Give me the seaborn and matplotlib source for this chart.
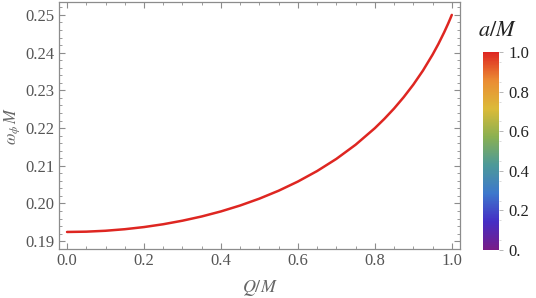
import numpy as np
import pandas as pd
import matplotlib
matplotlib.use('Agg')
import matplotlib.pyplot as plt
import seaborn as sns
from matplotlib.colors import LinearSegmentedColormap, Normalize
from matplotlib.ticker import MultipleLocator, FixedLocator, FixedFormatter

# Data
q_over_m = [0.0, 0.05, 0.1, 0.15, 0.2, 0.25, 0.3, 0.35, 0.4, 0.45, 0.5, 0.55,
            0.6, 0.65, 0.7, 0.75, 0.8, 0.825, 0.85, 0.875, 0.9, 0.925, 0.95,
            0.965, 0.98, 0.99, 0.995, 1.0]
omega_m = [0.19245, 0.19253, 0.19277, 0.19318, 0.19375, 0.19450, 0.19544,
           0.19656, 0.19790, 0.19947, 0.20129, 0.20339, 0.20582, 0.20861,
           0.21183, 0.21558, 0.21997, 0.22247, 0.22519, 0.22820, 0.23152,
           0.23524, 0.23946, 0.24227, 0.24536, 0.24759, 0.24877, 0.25]
a_over_m = 1.0
cbar_ticks = [0.0, 0.2, 0.4, 0.6, 0.8, 1.0]
cbar_labels = ['0.', '0.2', '0.4', '0.6', '0.8', '1.0']

df = pd.DataFrame({'Q': q_over_m, 'omega': omega_m})

sns.set_style('ticks')
plt.rcParams['font.family'] = ['Liberation Serif', 'DejaVu Serif']
plt.rcParams['mathtext.fontset'] = 'stix'

rainbow = LinearSegmentedColormap.from_list('mma_rainbow', [
    (0.47, 0.11, 0.53), (0.27, 0.18, 0.77), (0.24, 0.47, 0.80), (0.30, 0.60, 0.60),
    (0.54, 0.69, 0.32), (0.86, 0.73, 0.22), (0.92, 0.55, 0.20), (0.87, 0.15, 0.13)])
norm = Normalize(0, 1)
line_color = rainbow(norm(a_over_m))

fig = plt.figure(figsize=(5.36, 2.98), dpi=100)
ax = fig.add_axes([0.110, 0.164, 0.748, 0.829])
sns.lineplot(data=df, x='Q', y='omega', ax=ax, color=line_color, lw=1.8)

ax.set_xlim(-0.021, 1.021)
ax.set_ylim(0.1879, 0.2534)
ax.xaxis.set_major_locator(MultipleLocator(0.2))
ax.xaxis.set_minor_locator(MultipleLocator(0.05))
ax.yaxis.set_major_locator(MultipleLocator(0.01))
ax.yaxis.set_minor_locator(MultipleLocator(0.002))
ax.xaxis.set_major_formatter(plt.FuncFormatter(lambda v, p: f'{v:.1f}'))
ax.yaxis.set_major_formatter(plt.FuncFormatter(lambda v, p: f'{v:.2f}'))

gray = '#8c8c8c'
for s in ax.spines.values():
    s.set_visible(True)
    s.set_color(gray)
    s.set_linewidth(0.9)
ax.tick_params(which='both', direction='in', bottom=True, left=True, top=True, right=True,
               color=gray, labelcolor='#555555', labelsize=12, pad=3)
ax.tick_params(which='major', length=4.5, width=0.8)
ax.tick_params(which='minor', length=2.5, width=0.6)
ax.set_xlabel('$Q/M$', color='#666666', fontsize=13, labelpad=6)
ax.set_ylabel(r'$\omega_\phi\, M$', color='#666666', fontsize=12, labelpad=3)

cax = fig.add_axes([0.901, 0.161, 0.030, 0.664])
sm = plt.cm.ScalarMappable(norm=norm, cmap=rainbow)
cb = fig.colorbar(sm, cax=cax)
cb.outline.set_visible(False)
cb.set_ticks(cbar_ticks)
cb.ax.yaxis.set_major_formatter(FixedFormatter(cbar_labels))
cb.ax.yaxis.set_minor_locator(FixedLocator(np.arange(0.05, 1.0, 0.1)))
cb.ax.tick_params(which='major', right=True, length=3, width=0.6, color='#aaaaaa',
                  labelsize=12, labelcolor='#222222')
cb.ax.tick_params(which='minor', right=True, length=1.5, width=0.5, color='#cccccc')
fig.text(0.928, 0.895, '$a/M$', fontsize=16, ha='center', va='center', color='#222222')

fig.savefig('out.png', dpi=100)
